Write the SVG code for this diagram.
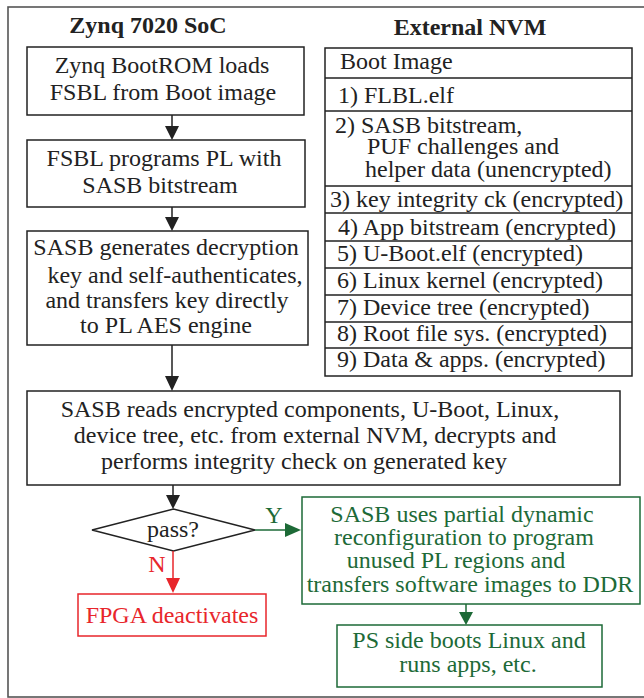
<svg xmlns="http://www.w3.org/2000/svg" width="644" height="698" viewBox="0 0 644 698">
<defs>
<style>
text{font-family:'Liberation Serif','Times New Roman',Times,Tinos,'Nimbus Roman',serif;font-size:24px;fill:#222}
.t{font-weight:bold;text-anchor:middle}
.c{text-anchor:middle}
.box{fill:#fff;stroke:#222;stroke-width:1.5}
.frame{fill:none;stroke:#555;stroke-width:1.6}
.g text,text.g{fill:#1d6a37}
.gbox{fill:#fff;stroke:#1d6a37;stroke-width:1.5}
.rbox{fill:#fff;stroke:#e8262b;stroke-width:1.5}
text.r{fill:#e8262b}
.ln{stroke:#222;stroke-width:1.5;fill:none}
.lg{stroke:#1d6a37;stroke-width:1.5;fill:none}
.lr{stroke:#e8262b;stroke-width:1.5;fill:none}
</style>
</defs>
<g font-family="Liberation Serif, Times New Roman, serif">
<rect class="frame" x="8" y="7" width="650" height="690"/>
<text class="t" x="148" y="33">Zynq 7020 SoC</text>
<text class="t" x="470" y="35">External NVM</text>

<g id="n1">
<rect class="box" x="27" y="47" width="277" height="68"/>
<text class="c" x="162" y="73">Zynq BootROM loads</text>
<text class="c" x="163" y="100">FSBL from Boot image</text>
</g>
<g id="n2">
<rect class="box" x="27" y="140" width="278" height="67"/>
<text class="c" x="164" y="166">FSBL programs PL with</text>
<text class="c" x="160" y="193">SASB bitstream</text>
</g>
<g id="n3">
<rect class="box" x="27" y="231" width="281" height="114"/>
<text class="c" x="166" y="255">SASB generates decryption</text>
<text class="c" x="175" y="283">key and self-authenticates,</text>
<text class="c" x="167" y="308">and transfers key directly</text>
<text class="c" x="166" y="333">to PL AES engine</text>
</g>

<g id="nvm">
<rect class="box" x="325" y="48" width="307" height="328"/>
<path class="ln" d="M325 78H632M325 111H632M325 186H632M325 213H632M325 241H632M325 268H632M325 295H632M325 322H632M325 348H632"/>
<text x="340" y="69">Boot Image</text>
<text x="338" y="103">1) FLBL.elf</text>
<text x="335" y="133">2) SASB bitstream,</text>
<text x="367" y="154">PUF challenges and</text>
<text x="365" y="177">helper data (unencrypted)</text>
<text x="330" y="207">3) key integrity ck (encrypted)</text>
<text x="338" y="235">4) App bitstream (encrypted)</text>
<text x="337" y="261">5) U-Boot.elf (encrypted)</text>
<text x="337" y="288">6) Linux kernel (encrypted)</text>
<text x="337" y="315">7) Device tree (encrypted)</text>
<text x="337" y="341">8) Root file sys. (encrypted)</text>
<text x="337" y="367">9) Data &amp; apps. (encrypted)</text>
</g>

<g id="n4">
<rect class="box" x="27" y="391" width="593" height="94"/>
<text class="c" x="310" y="417">SASB reads encrypted components, U-Boot, Linux,</text>
<text class="c" x="315" y="443">device tree, etc. from external NVM, decrypts and</text>
<text class="c" x="304" y="469">performs integrity check on generated key</text>
</g>

<g id="n5">
<polygon points="92,530 173.5,509 255,530 173.5,551" fill="#fff" stroke="#222" stroke-width="1.5"/>
<text class="c" x="173" y="537">pass?</text>
</g>

<g id="n6" class="g">
<rect class="gbox" x="302" y="497" width="338" height="107"/>
<text class="c" x="462" y="522">SASB uses partial dynamic</text>
<text class="c" x="464" y="545">reconfiguration to program</text>
<text class="c" x="456" y="568">unused PL regions and</text>
<text class="c" x="470" y="592">transfers software images to DDR</text>
</g>

<g id="n7" class="g">
<rect class="gbox" x="337" y="625" width="265" height="62"/>
<text class="c" x="469" y="648">PS side boots Linux and</text>
<text class="c" x="468" y="672">runs apps, etc.</text>
</g>

<g id="n8">
<rect class="rbox" x="78" y="594" width="188" height="42"/>
<text class="c r" x="172" y="623">FPGA deactivates</text>
</g>

<g id="connectors">
<path class="ln" d="M172 115V128M172 207V219M172 345V378M173 485V497"/>
<path d="M165 126H179L172 140Z M165 217H179L172 231Z M165 376H179L172 391Z M166 495H180L173 509Z" fill="#222"/>
<path class="lg" d="M255 530H288"/>
<path d="M285 523V537L301 530Z" fill="#1d6a37"/>
<text class="g c" x="274" y="523">Y</text>
<path class="lr" d="M173 551V580"/>
<path d="M166 578H180L173 593Z" fill="#e8262b"/>
<text class="r c" x="157" y="572">N</text>
<path class="lg" d="M466 604V614"/>
<path d="M459 612H473L466 625Z" fill="#1d6a37"/>
</g>
</g>
</svg>
